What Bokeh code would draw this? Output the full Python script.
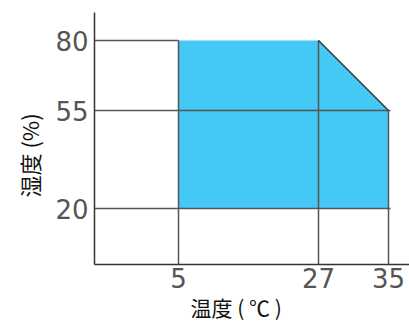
import numpy as np
from bokeh.plotting import figure
from bokeh.models import Range1d, FixedTicker, Title
from bokeh.embed import file_html
from bokeh.resources import INLINE

# data
temp_ticks = [5, 27, 35]
hum_ticks = [20, 55, 80]
zone_temp = [5, 5, 27, 35, 35]
zone_hum = [20, 80, 80, 55, 20]
upper_temp = [5, 27, 35]
upper_hum = [80, 80, 55]

# non-linear display positions of the temperature ticks on the x axis
temp_slot = [84, 224, 294]

def tx(t):
    return np.interp(t, temp_ticks, temp_slot)

p = figure(width=409, height=321, output_backend="svg", toolbar_location=None,
           x_range=Range1d(0, 315), y_range=Range1d(0, 90),
           min_border_left=94, min_border_right=0, min_border_top=12, min_border_bottom=57)
p.outline_line_color = None
p.xgrid.visible = False
p.ygrid.visible = False

fill = "#44c8f5"
gridc = "#555555"

p.patch(tx(np.array(zone_temp)), zone_hum, fill_color=fill, line_color=None)

# horizontal guide lines, clipped to the zone's right edge
h = np.array(hum_ticks, dtype=float)
right_t = np.interp(h, upper_hum[::-1], upper_temp[::-1])
ext = np.where(right_t >= max(temp_ticks), 2, 0)
p.segment(x0=np.zeros(len(h)), y0=h, x1=tx(right_t) + ext, y1=h, line_color=gridc, line_width=1.5)

# vertical guide lines up to the zone's top edge
t = np.array(temp_ticks, dtype=float)
top_h = np.interp(t, upper_temp, upper_hum)
p.segment(x0=tx(t), y0=np.zeros(len(t)), x1=tx(t), y1=top_h, line_color=gridc, line_width=1.5)

# diagonal edge
p.line(tx(np.array(upper_temp[1:])), upper_hum[1:], line_color="#333333", line_width=1.5)

p.xaxis.ticker = FixedTicker(ticks=list(tx(t)))
p.xaxis.major_label_overrides = {float(tx(v)): str(v) for v in temp_ticks}
p.yaxis.ticker = FixedTicker(ticks=hum_ticks)

for ax in (p.xaxis[0], p.yaxis[0]):
    ax.major_tick_out = 0
    ax.major_tick_in = 0
    ax.minor_tick_out = 0
    ax.minor_tick_in = 0
    ax.axis_line_color = "#333333"
    ax.axis_line_width = 1.5
    ax.major_label_text_font = "DejaVu Sans"
    ax.major_label_text_font_size = "26px"
    ax.major_label_text_color = "#555555"

p.yaxis.major_label_standoff = 6
p.xaxis.major_label_standoff = 3

p.add_layout(Title(text="温度 ( ℃ )", align="left", offset=96, standoff=-1,
                   text_font="Noto Sans CJK JP", text_font_size="21px",
                   text_font_style="normal", text_color="#111111"), "below")
p.add_layout(Title(text="湿度 (%)", align="left", offset=67, standoff=15,
                   text_font="Noto Sans CJK JP", text_font_size="22px",
                   text_font_style="normal", text_color="#111111"), "left")

open("out.html", "w").write(file_html(p, INLINE))
